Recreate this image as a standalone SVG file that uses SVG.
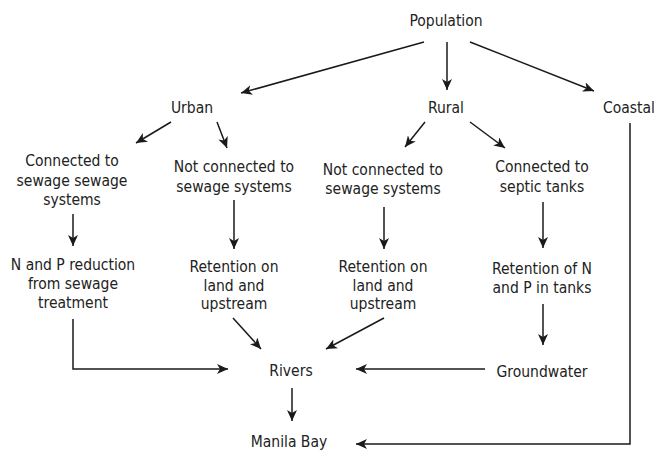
<svg xmlns="http://www.w3.org/2000/svg" width="654" height="452" viewBox="0 0 654 452">
<defs>
<marker id="ah" markerUnits="userSpaceOnUse" markerWidth="12" markerHeight="10" refX="11" refY="5" orient="auto">
<path d="M0,0 L11,5 L0,10 L3,5 Z" fill="#1a1a1a"/>
</marker>
<style>
text{font-family:"DejaVu Sans Condensed","DejaVu Sans",sans-serif;font-stretch:condensed;font-size:15.5px;fill:#222;text-anchor:middle}
.c line,.c polyline{stroke:#1a1a1a;stroke-width:1.5;fill:none;marker-end:url(#ah)}
</style>
</defs>
<rect width="654" height="452" fill="#fff"/>
<g id="population"><text x="446" y="26">Population</text></g>
<g id="urban"><text x="192" y="113">Urban</text></g>
<g id="rural"><text x="446" y="113">Rural</text></g>
<g id="coastal"><text x="629" y="113">Coastal</text></g>
<g id="urban-connected"><text x="72" y="166">Connected to</text><text x="72" y="186">sewage sewage</text><text x="72" y="205">systems</text></g>
<g id="urban-not-connected"><text x="234" y="172">Not connected to</text><text x="234" y="192">sewage systems</text></g>
<g id="rural-not-connected"><text x="383" y="175">Not connected to</text><text x="383" y="194">sewage systems</text></g>
<g id="rural-septic"><text x="542" y="172">Connected to</text><text x="542" y="192">septic tanks</text></g>
<g id="np-reduction"><text x="73" y="270">N and P reduction</text><text x="73" y="289">from sewage</text><text x="73" y="308">treatment</text></g>
<g id="urban-retention"><text x="234" y="272">Retention on</text><text x="234" y="291">land and</text><text x="234" y="309">upstream</text></g>
<g id="rural-retention"><text x="383" y="272">Retention on</text><text x="383" y="291">land and</text><text x="383" y="309">upstream</text></g>
<g id="tank-retention"><text x="542" y="274">Retention of N</text><text x="542" y="293">and P in tanks</text></g>
<g id="rivers"><text x="291" y="376">Rivers</text></g>
<g id="groundwater"><text x="542" y="377">Groundwater</text></g>
<g id="manila-bay"><text x="289" y="447">Manila Bay</text></g>
<g id="connectors" class="c">
<line x1="424" y1="42" x2="241" y2="93"/>
<line x1="447" y1="42" x2="447" y2="90"/>
<line x1="470" y1="42" x2="594" y2="91"/>
<line x1="171" y1="122" x2="136" y2="143"/>
<line x1="217" y1="122" x2="227" y2="148"/>
<line x1="425" y1="122" x2="405" y2="147"/>
<line x1="470" y1="122" x2="505" y2="148"/>
<polyline points="630,123 630,444 356,444"/>
<line x1="73" y1="214" x2="73" y2="246"/>
<line x1="234" y1="200" x2="234" y2="249"/>
<line x1="384" y1="207" x2="384" y2="249"/>
<line x1="543" y1="202" x2="543" y2="248"/>
<line x1="543" y1="304" x2="543" y2="345"/>
<line x1="485" y1="369" x2="356" y2="369"/>
<line x1="384" y1="318" x2="326" y2="349"/>
<line x1="233" y1="318" x2="261" y2="349"/>
<polyline points="73,319 73,369 228,369"/>
<line x1="292" y1="388" x2="292" y2="421"/>
</g>
</svg>
